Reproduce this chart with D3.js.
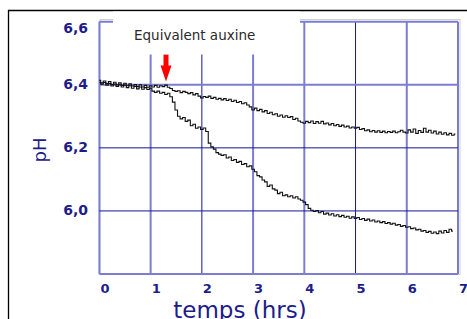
<!DOCTYPE html>
<html><head><meta charset="utf-8">
<script src="https://cdn.jsdelivr.net/npm/d3@7"></script>
<style>html,body{margin:0;padding:0;background:#fff;}svg{display:block;}</style>
</head><body>
<svg id="c" width="467" height="319"></svg>
<script>
// ---- data ----
const time = [0.00,0.05,0.10,0.15,0.20,0.25,0.30,0.35,0.40,0.45,0.50,0.55,0.60,0.65,0.70,0.75,0.80,0.85,0.90,0.95,
  1.00,1.05,1.10,1.15,1.20,1.25,1.30,1.35,1.40,1.45,1.50,1.55,1.60,1.65,1.70,1.75,1.80,1.85,1.90,1.95,
  2.00,2.05,2.10,2.15,2.20,2.25,2.30,2.35,2.40,2.45,2.50,2.55,2.60,2.65,2.70,2.75,2.80,2.85,2.90,2.95,
  3.00,3.05,3.10,3.15,3.20,3.25,3.30,3.35,3.40,3.45,3.50,3.55,3.60,3.65,3.70,3.75,3.80,3.85,3.90,3.95,
  4.00,4.05,4.10,4.15,4.20,4.25,4.30,4.35,4.40,4.45,4.50,4.55,4.60,4.65,4.70,4.75,4.80,4.85,4.90,4.95,
  5.00,5.05,5.10,5.15,5.20,5.25,5.30,5.35,5.40,5.45,5.50,5.55,5.60,5.65,5.70,5.75,5.80,5.85,5.90,5.95,
  6.00,6.05,6.10,6.15,6.20,6.25,6.30,6.35,6.40,6.45,6.50,6.55,6.60,6.65,6.70,6.75,6.80,6.85,6.90,6.95];
const controlPH = [
  6.414,6.406,6.412,6.404,6.410,6.401,6.408,6.400,6.406,6.398,6.405,6.397,6.403,6.396,6.401,6.394,6.400,6.393,6.398,6.392,
  6.397,6.393,6.398,6.392,6.397,6.394,6.399,6.392,6.388,6.382,6.379,6.381,6.375,6.379,6.376,6.372,6.375,6.368,6.372,6.364,
  6.358,6.363,6.360,6.364,6.357,6.360,6.354,6.357,6.352,6.356,6.350,6.354,6.347,6.351,6.344,6.347,6.340,6.343,6.336,6.330,
  6.320,6.326,6.318,6.322,6.314,6.318,6.309,6.313,6.305,6.308,6.300,6.304,6.297,6.302,6.296,6.299,6.290,6.294,6.285,6.281,
  6.278,6.284,6.280,6.285,6.277,6.283,6.278,6.284,6.276,6.279,6.273,6.277,6.270,6.274,6.268,6.272,6.266,6.269,6.263,6.266,
  6.262,6.265,6.258,6.261,6.254,6.257,6.251,6.255,6.250,6.254,6.249,6.253,6.248,6.252,6.249,6.253,6.248,6.251,6.256,6.250,
  6.247,6.257,6.250,6.260,6.246,6.255,6.249,6.262,6.250,6.256,6.247,6.253,6.244,6.250,6.243,6.248,6.241,6.246,6.240,6.244];
const auxinePH = [
  6.408,6.402,6.407,6.399,6.404,6.396,6.402,6.395,6.400,6.393,6.399,6.391,6.397,6.389,6.395,6.387,6.393,6.386,6.391,6.385,
  6.389,6.380,6.376,6.380,6.373,6.376,6.369,6.373,6.362,6.345,6.320,6.300,6.292,6.296,6.284,6.288,6.270,6.275,6.262,6.266,
  6.258,6.263,6.252,6.215,6.203,6.196,6.185,6.180,6.176,6.178,6.168,6.171,6.160,6.163,6.154,6.157,6.147,6.150,6.140,6.143,
  6.132,6.124,6.112,6.108,6.098,6.092,6.078,6.082,6.070,6.066,6.055,6.059,6.048,6.051,6.045,6.048,6.041,6.045,6.038,6.034,
  6.028,6.020,6.008,6.002,5.998,6.001,5.994,5.998,5.990,5.993,5.987,5.991,5.984,5.988,5.982,5.986,5.980,5.983,5.977,5.981,
  5.976,5.979,5.973,5.976,5.970,5.974,5.968,5.971,5.965,5.968,5.963,5.966,5.960,5.963,5.958,5.961,5.955,5.957,5.951,5.954,
  5.948,5.950,5.944,5.946,5.940,5.942,5.936,5.938,5.932,5.935,5.929,5.933,5.928,5.936,5.930,5.938,5.932,5.942,5.936];
const xTicks = [0,1,2,3,4,5,6,7];
const yTicks = [5.8,6.0,6.2,6.4,6.6];
const yTickLabels = ["","6,0","6,2","6,4","6,6"];
const xTitle = "temps (hrs)";
const yTitle = "pH";
const annotation = "Equivalent auxine";
const arrowAt = [1.3, 6.41];

// ---- drawing ----
const svg = d3.select("#c");
const navy = "#1c1c8a";
const x = d3.scaleLinear().domain([0,7]).range([99.4,458]);
const y = d3.scaleLinear().domain([5.8,6.6]).range([274,21.7]);
const darkX = new Set([2,5]);
const darkY = new Set([6.0,6.2]);

// outer frame
svg.append("path").attr("d","M8.5,319 V10.5 H467").attr("fill","none").attr("stroke","#000").attr("stroke-width",1.3);

// faint shadow border
svg.append("rect").attr("x",100).attr("y",19.5).attr("width",360).attr("height",255)
  .attr("fill","none").attr("stroke","#cfcfcf").attr("stroke-width",1);

const g = svg.append("g");
g.selectAll(".vx").data(xTicks).join("line")
  .attr("x1",d=>x(d)).attr("x2",d=>x(d)).attr("y1",y(6.6)).attr("y2",y(5.8))
  .attr("stroke",d=>darkX.has(d)?"#16169c":"#7c7cd2")
  .attr("stroke-width",d=>darkX.has(d)?1:2);
g.selectAll(".hy").data(yTicks).join("line")
  .attr("x1",x(0)).attr("x2",x(7)).attr("y1",d=>y(d)).attr("y2",d=>y(d))
  .attr("stroke",d=>darkY.has(d)?"#16169c":"#7c7cd2")
  .attr("stroke-width",d=>darkY.has(d)?1:2);

// annotation background and label
svg.append("rect").attr("x",113).attr("y",11.5).attr("width",187).attr("height",43).attr("fill","#fff");
svg.append("text").attr("x",134).attr("y",40).attr("font-family","DejaVu Sans")
  .attr("font-size",13.5).attr("fill","#2a2a2a").text(annotation);

// data lines
const mk = d3.line().x((d,i)=>x(time[i])).y(d=>y(d)).curve(d3.curveStep);
svg.append("path").attr("d",mk(auxinePH)).attr("fill","none").attr("stroke","#111").attr("stroke-width",1.1);
svg.append("path").attr("d",mk(controlPH)).attr("fill","none").attr("stroke","#111").attr("stroke-width",1.1);

// arrow
const ax = x(arrowAt[0]), ay = y(arrowAt[1]);
svg.append("rect").attr("x",ax-2.5).attr("y",ay-27).attr("width",5).attr("height",12).attr("fill","#f00");
svg.append("path").attr("d",`M${ax-5.5},${ay-16} L${ax+5.5},${ay-16} L${ax},${ay} Z`).attr("fill","#f00");

// tick labels
svg.selectAll(".xl").data(xTicks).join("text")
  .attr("x",d=>x(d)+1).attr("y",293).attr("font-family","DejaVu Sans").attr("font-weight","bold")
  .attr("font-size",13).attr("fill",navy).text(d=>d);
svg.selectAll(".yl").data(yTicks).join("text")
  .attr("x",88).attr("y",(d,i)=>y(d)+ (i===yTicks.length-1?11:4.5)).attr("text-anchor","end")
  .attr("font-family","DejaVu Sans").attr("font-weight","bold")
  .attr("font-size",14).attr("fill",navy).text((d,i)=>yTickLabels[i]);

// titles
svg.append("text").attr("transform","translate(46,150) rotate(-90)").attr("text-anchor","middle")
  .attr("font-family","DejaVu Sans").attr("font-size",18).attr("fill",navy).text(yTitle);
svg.append("text").attr("x",240).attr("y",318).attr("text-anchor","middle")
  .attr("font-family","DejaVu Sans").attr("font-size",23).attr("fill",navy).text(xTitle);
</script>
</body></html>
